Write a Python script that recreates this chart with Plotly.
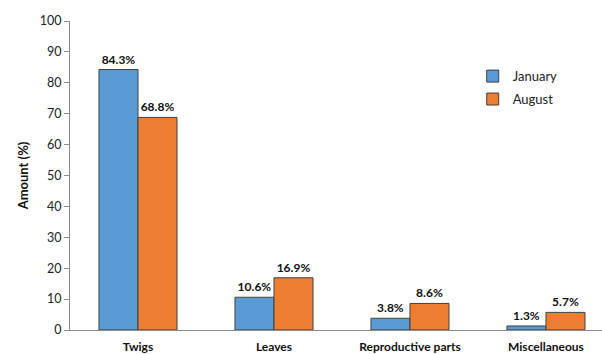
import plotly.graph_objects as go

categories = ["Twigs", "Leaves", "Reproductive parts", "Miscellaneous"]
january = [84.3, 10.6, 3.8, 1.3]
august = [68.8, 16.9, 8.6, 5.7]
y_ticks = [0, 10, 20, 30, 40, 50, 60, 70, 80, 90, 100]

FONT = "Lato, 'Open Sans', sans-serif"
OUTLINE = "#404040"
AXIS = "#8c8c8c"

def labels(vals):
    return [f"{v}%" for v in vals]

fig = go.Figure()
fig.add_trace(go.Bar(
    name="January", x=categories, y=january, legendgroup="jan",
    marker=dict(color="#5B9BD5", line=dict(color=OUTLINE, width=1)),
    text=labels(january), textposition="outside", cliponaxis=False,
    textfont=dict(family=FONT, size=12, color="#111111", weight="bold"),
))
fig.add_trace(go.Bar(
    name="August", x=categories, y=august, legendgroup="aug",
    marker=dict(color="#ED7D31", line=dict(color=OUTLINE, width=1)),
    text=labels(august), textposition="outside", cliponaxis=False,
    textfont=dict(family=FONT, size=12, color="#111111", weight="bold"),
))

fig.update_layout(
    width=602, height=354,
    margin=dict(l=70, r=0, t=21, b=24),
    paper_bgcolor="white", plot_bgcolor="white",
    barmode="group", bargap=0.426, bargroupgap=0,
    font=dict(family=FONT, size=12, color="#222222"),
    showlegend=True,
    legend=dict(
        x=0.757, y=0.87, xanchor="left", yanchor="top",
        font=dict(family=FONT, size=13, color="#222222"),
        itemwidth=30, tracegroupgap=3,
        bgcolor="rgba(0,0,0,0)",
    ),
    xaxis=dict(
        range=[-0.5, 3.412],
        showline=True, linecolor=AXIS, linewidth=1,
        ticks="", showgrid=False,
        tickfont=dict(family=FONT, size=12, color="#111111", weight="bold"),
        ticklabelstandoff=6,
    ),
    yaxis=dict(
        range=[0, 100], tickvals=y_ticks,
        showline=True, linecolor=AXIS, linewidth=1,
        ticks="outside", ticklen=5, tickcolor=AXIS,
        showgrid=False, zeroline=False,
        tickfont=dict(family=FONT, size=12.5, color="#222222"),
        title=dict(text="Amount (%)", standoff=8,
                   font=dict(family=FONT, size=13, color="#111111", weight="bold")),
    ),
)

fig.write_html("out.html")
